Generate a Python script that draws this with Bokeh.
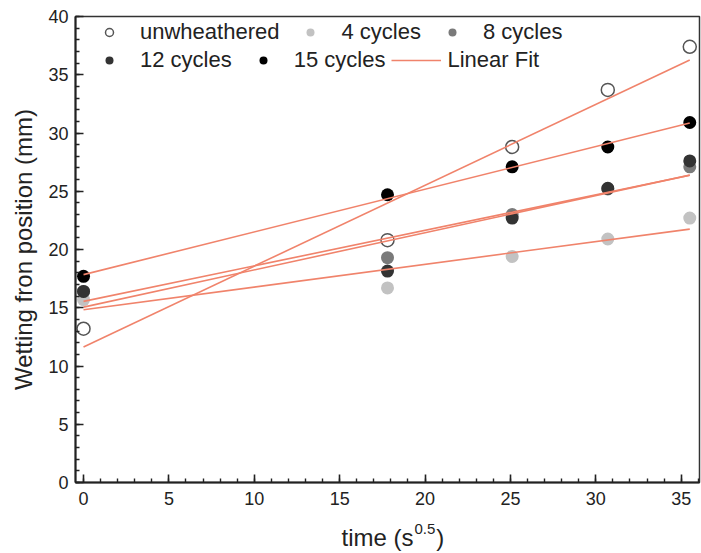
import numpy as np
from bokeh.plotting import figure
from bokeh.layouts import column
from bokeh.models import Range1d, SingleIntervalTicker, Legend, LegendItem
from bokeh.core.properties import value
from bokeh.embed import file_html
from bokeh.resources import INLINE

# ---- data ----
time_sqrt = [0, 17.8, 25.1, 30.7, 35.5]
unweathered = [13.2, 20.8, 28.8, 33.7, 37.4]
cycles_4 = [15.7, 16.7, 19.4, 20.9, 22.7]
cycles_8 = [16.4, 19.3, 23.0, 25.2, 27.1]
cycles_12 = [16.4, 18.15, 22.7, 25.25, 27.6]
cycles_15 = [17.7, 24.7, 27.1, 28.8, 30.9]
series_names = ["unwheathered", "4 cycles", "8 cycles", "12 cycles", "15 cycles"]
x_title_parts = ["time (s", "0.5", ")"]
x_ticks_step = 5
y_ticks_step = 5

FONT = "Liberation Sans"
TXT = "#222222"
FIT = "#f0836b"

p = figure(width=701, height=515, output_backend="svg", toolbar_location=None,
           x_range=Range1d(-0.47, 36.07), y_range=Range1d(0, 40),
           min_border_left=75, min_border_right=2, min_border_top=16, min_border_bottom=33)
p.grid.visible = False
p.outline_line_color = "#333333"
p.outline_line_width = 1.5
p.background_fill_color = "white"
p.border_fill_color = "white"

for ax, step in ((p.xaxis[0], x_ticks_step), (p.yaxis[0], y_ticks_step)):
    ax.ticker = SingleIntervalTicker(interval=step, num_minor_ticks=5)
    ax.axis_line_width = 2
    ax.axis_line_color = TXT
    ax.major_tick_in = 8
    ax.major_tick_out = 0
    ax.minor_tick_in = 4
    ax.minor_tick_out = 0
    ax.major_tick_line_width = 1.6
    ax.minor_tick_line_width = 1.4
    ax.major_tick_line_color = TXT
    ax.minor_tick_line_color = TXT
    ax.major_label_text_font = FONT
    ax.major_label_text_font_size = "18px"
    ax.major_label_text_color = TXT
    ax.axis_label_text_font = FONT
    ax.axis_label_text_font_style = "normal"
    ax.axis_label_text_color = TXT

p.xaxis.major_label_standoff = 9
p.yaxis.major_label_standoff = 7
p.yaxis.axis_label = "Wetting fron position (mm)"
p.yaxis.axis_label_text_font_size = "24px"
p.yaxis.axis_label_standoff = 8

styles = [
    dict(fill_color="white", line_color="#555555", line_width=1.5),
    dict(fill_color="#c2c2c2", line_color="#c2c2c2", line_width=0),
    dict(fill_color="#7a7a7a", line_color="#7a7a7a", line_width=0),
    dict(fill_color="#333333", line_color="#333333", line_width=0),
    dict(fill_color="#000000", line_color="#000000", line_width=0),
]
all_series = [unweathered, cycles_4, cycles_8, cycles_12, cycles_15]
scat = []
for ys, st in zip(all_series, styles):
    scat.append(p.scatter(time_sqrt, ys, size=13, marker="circle", **st))

fits = []
xs = np.array(time_sqrt, dtype=float)
for ys in all_series:
    k, b = np.polyfit(xs, np.array(ys, dtype=float), 1)
    xe = [xs.min(), xs.max()]
    fits.append(p.line(xe, [b + k * xe[0], b + k * xe[1]], line_color=FIT, line_width=1.6))

def make_legend(items, y):
    lg = Legend(items=items, location=(9, y), orientation="horizontal",
                glyph_width=50, glyph_height=20, label_standoff=6, spacing=6,
                padding=0, margin=0, border_line_alpha=0, background_fill_alpha=0,
                label_text_font=FONT, label_text_font_size="22px", label_text_color=TXT)
    p.add_layout(lg, "center")

make_legend([LegendItem(label=series_names[i], renderers=[scat[i]]) for i in range(3)], 437)
make_legend([LegendItem(label=series_names[3], renderers=[scat[3]]),
             LegendItem(label=series_names[4], renderers=[scat[4]]),
             LegendItem(label="Linear Fit", renderers=[fits[0]])], 409)

# strip below the plot holding the x-axis title (with superscript); shares the x range
t = figure(width=701, height=38, output_backend="svg", toolbar_location=None,
           x_range=p.x_range, y_range=Range1d(0, 38),
           x_axis_type=None, y_axis_type=None,
           min_border_left=75, min_border_right=2, min_border_top=0, min_border_bottom=0)
t.grid.visible = False
t.outline_line_color = None
t.border_fill_color = "white"
t.background_fill_color = "white"
t.text(x=[19.32], y=[16], text=[x_title_parts[0]], text_align="right", text_baseline="middle",
       text_font=value(FONT), text_font_size="24px", text_color=TXT)
t.text(x=[19.38], y=[25], text=[x_title_parts[1]], text_align="left", text_baseline="middle",
       text_font=value(FONT), text_font_size="15px", text_color=TXT)
t.text(x=[20.65], y=[16], text=[x_title_parts[2]], text_align="left", text_baseline="middle",
       text_font=value(FONT), text_font_size="24px", text_color=TXT)

layout = column(p, t, spacing=0)
open("out.html", "w").write(file_html(layout, INLINE))
